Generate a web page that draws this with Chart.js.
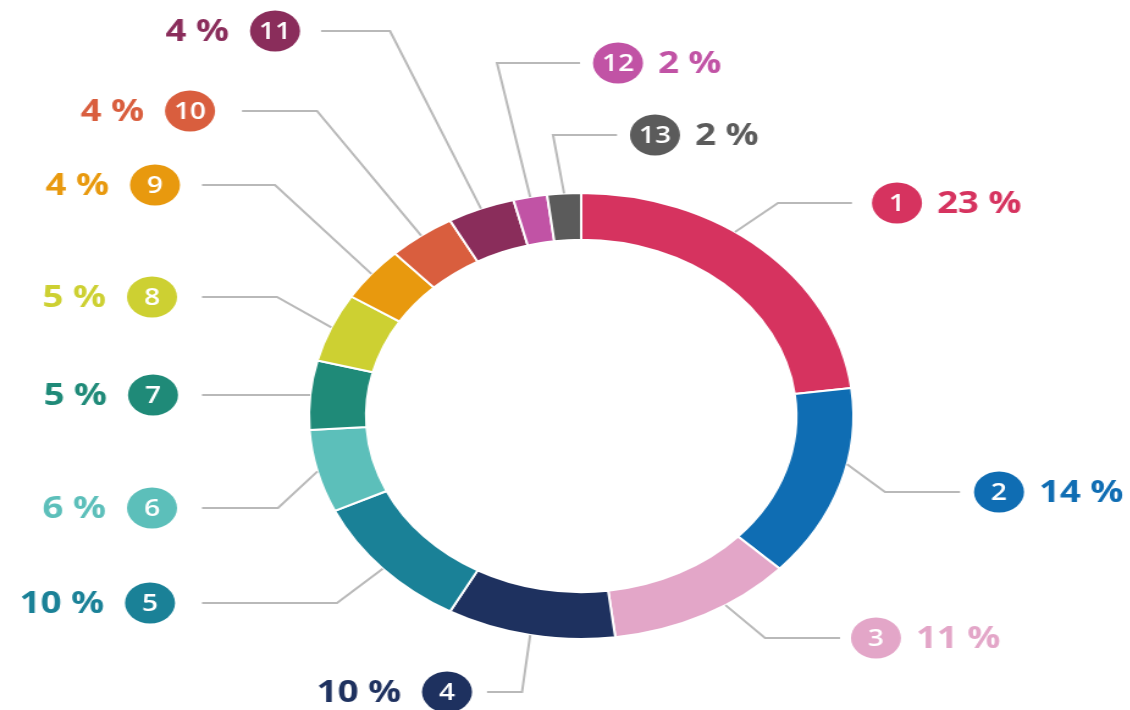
<!DOCTYPE html>
<html>
<head>
<meta charset="utf-8">
<script src="https://cdn.jsdelivr.net/npm/chart.js@4.4.1/dist/chart.umd.min.js"></script>
<style>
  html, body { margin: 0; padding: 0; background: #fff; overflow: hidden; }
  /* the original picture is stretched sideways, so stretch the whole chart the same way */
  #wrap { width: 925px; height: 710px; transform: scaleX(1.221); transform-origin: 0 0; }
</style>
</head>
<body>
<div id="wrap"><canvas id="donut"></canvas></div>
<script>
const SX = 1.221;

const segmentLabels = ['1', '2', '3', '4', '5', '6', '7', '8', '9', '10', '11', '12', '13'];
const shares = [23, 14, 11, 10, 10, 6, 5, 5, 4, 4, 4, 2, 2];
const segmentColors = [
    '#d6335f', '#0f6db3', '#e3a6c8', '#1e315f', '#1a8197', '#5cbfba', '#1f8a78',
    '#cdd032', '#e8990e', '#d95e3e', '#8a2d5b', '#c153a5', '#5b5b5b'
];

// callout placement in page pixels (side = where the % text sits relative to the bubble)
const callouts = [
    { side: 'right', cx: 897, cy: 203, elbowX: 778, lineX: 852, shift: -7 },
    { side: 'right', cx: 999, cy: 492, elbowX: 885, lineX: 960, shift: -5.5 },
    { side: 'right', cx: 876, cy: 638, elbowX: 765, lineX: 840, shift: -5 },
    { side: 'left', cx: 447, cy: 692, elbowX: 522, lineX: 487 },
    { side: 'left', cx: 150, cy: 603, elbowX: 337, lineX: 202 },
    { side: 'left', cx: 152, cy: 508, elbowX: 278, lineX: 202 },
    { side: 'left', cx: 153, cy: 395, elbowX: 306, lineX: 202 },
    { side: 'left', cx: 152, cy: 297, elbowX: 277, lineX: 202 },
    { side: 'left', cx: 155, cy: 185, elbowX: 275, lineX: 202 },
    { side: 'left', cx: 190, cy: 111, elbowX: 317, lineX: 242 },
    { side: 'left', cx: 275, cy: 31, elbowX: 390, lineX: 321 },
    { side: 'right', cx: 618, cy: 63, elbowX: 497, lineX: 580 },
    { side: 'right', cx: 655, cy: 135, elbowX: 553, lineX: 617 }
];

const calloutPlugin = {
    id: 'callouts',
    afterDatasetsDraw(chart) {
        const ctx = chart.ctx;
        const arcs = chart.getDatasetMeta(0).data;
        ctx.save();
        arcs.forEach(function(arc, i) {
            const c = callouts[i];
            const p = arc.getProps(['x', 'y', 'startAngle', 'endAngle', 'outerRadius'], true);
            const mid = (p.startAngle + p.endAngle) / 2 + (c.shift || 0) * Math.PI / 180;
            const ax = p.x + Math.cos(mid) * p.outerRadius;
            const ay = p.y + Math.sin(mid) * p.outerRadius;

            // leader line
            ctx.strokeStyle = '#b9b9b9';
            ctx.lineWidth = 2;
            ctx.beginPath();
            ctx.moveTo(ax, ay);
            ctx.lineTo(c.elbowX / SX, c.cy);
            ctx.lineTo(c.lineX / SX, c.cy);
            ctx.stroke();

            // numbered bubble
            const bx = c.cx / SX;
            ctx.fillStyle = segmentColors[i];
            ctx.beginPath();
            ctx.arc(bx, c.cy, 20.5, 0, Math.PI * 2);
            ctx.fill();
            ctx.fillStyle = '#fff';
            ctx.font = '600 23px "Open Sans"';
            ctx.textAlign = 'center';
            ctx.textBaseline = 'middle';
            ctx.fillText(segmentLabels[i], bx, c.cy + 1);

            // share text
            ctx.fillStyle = segmentColors[i];
            ctx.font = 'bold 30px "Open Sans"';
            if (c.side === 'right') {
                ctx.textAlign = 'left';
                ctx.fillText(shares[i] + ' %', (c.cx + 40) / SX, c.cy + 1);
            } else {
                ctx.textAlign = 'right';
                ctx.fillText(shares[i] + ' %', (c.cx - 46) / SX, c.cy + 1);
            }
        });
        ctx.restore();
    }
};

new Chart(document.getElementById('donut'), {
    type: 'doughnut',
    data: {
        labels: segmentLabels,
        datasets: [{
            data: shares,
            backgroundColor: segmentColors,
            borderColor: '#ffffff',
            borderWidth: 2
        }]
    },
    options: {
        responsive: true,
        maintainAspectRatio: false,
        animation: false,
        events: [],
        cutout: '79%',
        layout: { padding: { top: 191, bottom: 69, left: 252, right: 225 } },
        plugins: {
            legend: { display: false },
            tooltip: { enabled: false }
        }
    },
    plugins: [calloutPlugin]
});
</script>
</body>
</html>
